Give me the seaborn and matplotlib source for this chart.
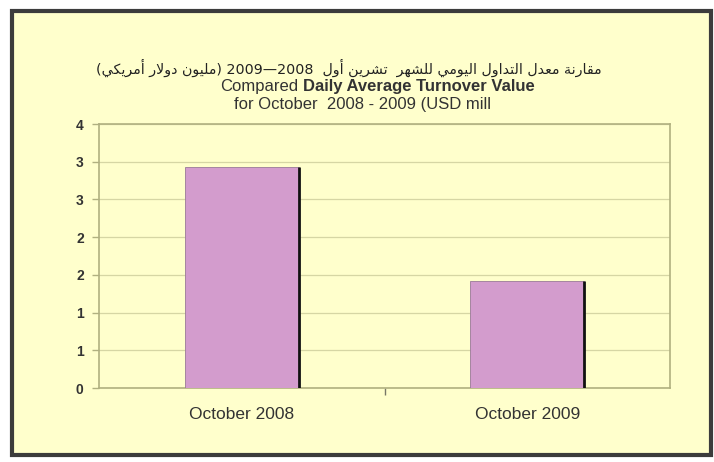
import re
import numpy as np
import matplotlib
matplotlib.use('Agg')
import matplotlib.pyplot as plt
from matplotlib.patches import Rectangle
import seaborn as sns

periods = ['October 2008', 'October 2009']
turnover = [2.93, 1.42]
y_ticks = [0, 0.5, 1, 1.5, 2, 2.5, 3, 3.5]
y_labels = ['0', '1', '1', '2', '2', '3', '3', '4']

title_ar = 'مقارنة معدل التداول اليومي للشهر  تشرين أول  2008—2009 (مليون دولار أمريكي)'
title_en_plain = 'Compared '
title_en_bold = 'Daily Average Turnover Value'
title_en_2 = 'for October  2008 - 2009 (USD mill'

# minimal arabic shaping (no arabic_reshaper / bidi in the sandbox)
FORMS = {
    'ا': ('\uFE8D', '\uFE8E', None, None),
    'أ': ('\uFE83', '\uFE84', None, None),
    'د': ('\uFEA9', '\uFEAA', None, None),
    'ر': ('\uFEAD', '\uFEAE', None, None),
    'و': ('\uFEED', '\uFEEE', None, None),
    'ة': ('\uFE93', '\uFE94', None, None),
    'ت': ('\uFE95', '\uFE96', '\uFE97', '\uFE98'),
    'ش': ('\uFEB5', '\uFEB6', '\uFEB7', '\uFEB8'),
    'ع': ('\uFEC9', '\uFECA', '\uFECB', '\uFECC'),
    'ق': ('\uFED5', '\uFED6', '\uFED7', '\uFED8'),
    'ك': ('\uFED9', '\uFEDA', '\uFEDB', '\uFEDC'),
    'ل': ('\uFEDD', '\uFEDE', '\uFEDF', '\uFEE0'),
    'م': ('\uFEE1', '\uFEE2', '\uFEE3', '\uFEE4'),
    'ن': ('\uFEE5', '\uFEE6', '\uFEE7', '\uFEE8'),
    'ه': ('\uFEE9', '\uFEEA', '\uFEEB', '\uFEEC'),
    'ي': ('\uFEF1', '\uFEF2', '\uFEF3', '\uFEF4'),
}
LAM_ALEF = {'ا': ('\uFEFB', '\uFEFC'), 'أ': ('\uFEF7', '\uFEF8')}


def shape(text):
    out = []
    n = len(text)

    def joins_prev(i):
        prev = text[i - 1] if i > 0 else ''
        return prev in FORMS and FORMS[prev][2] is not None

    i = 0
    while i < n:
        c = text[i]
        if c == 'ل' and i + 1 < n and text[i + 1] in LAM_ALEF:
            iso, fin = LAM_ALEF[text[i + 1]]
            out.append(fin if joins_prev(i) else iso)
            i += 2
            continue
        if c in FORMS:
            iso, fin, ini, med = FORMS[c]
            p = joins_prev(i)
            nx = text[i + 1] if i + 1 < n else ''
            q = ini is not None and nx in FORMS
            out.append(med if (p and q) else fin if p else ini if q else iso)
        else:
            out.append(c)
        i += 1
    vis = ''.join(out)[::-1]
    vis = re.sub(r'[0-9]+', lambda m: m.group(0)[::-1], vis)
    return vis.translate(str.maketrans('()', ')('))


sns.set_style('white')
plt.rcParams['font.family'] = ['Liberation Sans', 'DejaVu Sans']

cream = '#FFFFCC'
olive = '#B0B080'
grid_c = '#D6D6A4'
bar_c = '#D39CCD'

fig = plt.figure(figsize=(7.14, 4.62), dpi=100, facecolor='white')
W, H = 714, 462
fig.patches.append(Rectangle((12 / W, 1 - 455 / H), 699 / W, 444 / H,
                             transform=fig.transFigure, facecolor=cream,
                             edgecolor='#3C3C3C', linewidth=3, zorder=-5))

ax = fig.add_axes([99 / W, 1 - 388 / H, 571 / W, 264 / H])
ax.set_facecolor(cream)

sns.barplot(x=periods, y=turnover, color=bar_c, saturation=1, width=0.4,
            edgecolor='#9A7A98', linewidth=0.6, ax=ax, zorder=3)
# dark shadow on the right side of each bar
for p in ax.patches:
    ax.plot([p.get_x() + p.get_width()] * 2, [0, p.get_height()],
            color='#111111', lw=2, zorder=4, solid_capstyle='butt')

ax.set_xlim(-0.5, 1.5)
ax.set_ylim(0, 3.5)
ax.set_yticks(y_ticks)
ax.set_yticklabels(y_labels, fontsize=10, fontweight='bold', color='#333333')
ax.set_xticks([0, 1])
ax.set_xticklabels(periods, fontsize=12.5, color='#333333')
ax.set_xticks([0.5], minor=True)
ax.tick_params(axis='x', which='major', bottom=False, length=0, pad=14)
ax.tick_params(axis='x', which='minor', bottom=True, length=5, width=1,
               color='#777766', direction='out')
ax.tick_params(axis='y', left=True, length=5, width=1, color=olive,
               direction='out', pad=6)
ax.yaxis.grid(True, color=grid_c, lw=0.9, zorder=0)
ax.set_axisbelow(True)
for s in ax.spines.values():
    s.set_color(olive)
    s.set_linewidth(1.2)
ax.set_xlabel('')
ax.set_ylabel('')

fig.text(349 / W, 1 - 68 / H, shape(title_ar), ha='center', va='center',
         fontsize=10.3, color='#222222', family=['DejaVu Sans'])
fig.text(298 / W, 1 - 87 / H, title_en_plain.strip(), ha='right', va='center',
         fontsize=12, color='#333333')
fig.text(303 / W, 1 - 87 / H, title_en_bold, ha='left', va='center',
         fontsize=12, fontweight='bold', color='#333333')
fig.text(363 / W, 1 - 105 / H, title_en_2, ha='center', va='center',
         fontsize=12, color='#333333')

fig.savefig('out.png', dpi=100, facecolor='white')
